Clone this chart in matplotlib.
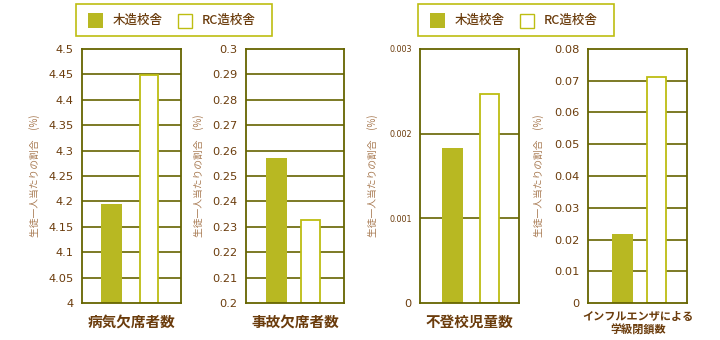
import matplotlib
matplotlib.use("Agg")
import matplotlib.pyplot as plt
from matplotlib.patches import Rectangle

plt.rcParams['font.family'] = ['Noto Sans CJK JP', 'DejaVu Sans']

# per-student rates (%) for wooden vs. RC school buildings
titles = ['病気欠席者数', '事故欠席者数', '不登校児童数', 'インフルエンザによる\n学級閉鎖数']
wood = [4.194, 0.257, 0.00183, 0.0218]
rc = [4.448, 0.2326, 0.00247, 0.0712]
ylims = [(4.0, 4.5), (0.2, 0.3), (0.0, 0.003), (0.0, 0.08)]
yticks = [
    [4, 4.05, 4.1, 4.15, 4.2, 4.25, 4.3, 4.35, 4.4, 4.45, 4.5],
    [0.2, 0.21, 0.22, 0.23, 0.24, 0.25, 0.26, 0.27, 0.28, 0.29, 0.3],
    [0, 0.001, 0.002, 0.003],
    [0, 0.01, 0.02, 0.03, 0.04, 0.05, 0.06, 0.07, 0.08],
]
ytick_labels = [
    ['4', '4.05', '4.1', '4.15', '4.2', '4.25', '4.3', '4.35', '4.4', '4.45', '4.5'],
    ['0.2', '0.21', '0.22', '0.23', '0.24', '0.25', '0.26', '0.27', '0.28', '0.29', '0.3'],
    ['0', '0.001', '0.002', '0.003'],
    ['0', '0.01', '0.02', '0.03', '0.04', '0.05', '0.06', '0.07', '0.08'],
]
legend_names = ['木造校舎', 'RC造校舎']
ylabel = '生徒一人当たりの割合　(%)'

WOOD = '#b8b822'
RC_EDGE = '#bdbd12'
LINE = '#666400'
TXT = '#6b3c0c'
YLAB = '#a87a52'

W, H = 720, 340
fig = plt.figure(figsize=(7.2, 3.4), dpi=100)

lefts = [82, 245.7, 420.3, 588.3]
widths = [98.5, 98.5, 99, 99]
top, bottom = 49, 303
wood_x = [0.30, 0.31, 0.325, 0.345]
rc_x = [0.68, 0.66, 0.70, 0.69]
ylab_x = [35, 199, 373, 539]

for i in range(4):
    ax = fig.add_axes([lefts[i] / W, 1 - bottom / H, widths[i] / W, (bottom - top) / H])
    lo, hi = ylims[i]
    ax.set_xlim(0, 1)
    ax.set_ylim(lo, hi)
    for t in yticks[i][1:-1]:
        ax.axhline(t, color=LINE, lw=1.2, zorder=1)
    ax.bar(wood_x[i], wood[i] - lo, bottom=lo, width=0.21, color=WOOD, zorder=2)
    ax.bar(rc_x[i], rc[i] - lo, bottom=lo, width=0.19, facecolor='white',
           edgecolor=RC_EDGE, linewidth=1.3, zorder=2)
    for s in ax.spines.values():
        s.set_color(LINE)
        s.set_linewidth(1.3)
    ax.set_xticks([])
    ax.set_yticks(yticks[i])
    ax.set_yticklabels(ytick_labels[i], family='DejaVu Sans')
    ax.tick_params(axis='y', length=0, pad=6, labelcolor=TXT, labelsize=8.2)
    if i == 2:
        for lab in ax.get_yticklabels()[1:]:
            lab.set_fontsize(5.8)

    cx = (lefts[i] + widths[i] / 2) / W
    if i == 3:
        fig.text(cx, 1 - 323 / H, titles[i], ha='center', va='center',
                 fontsize=8, color=TXT, linespacing=1.05, fontweight='bold')
    else:
        fig.text(cx, 1 - 322 / H, titles[i], ha='center', va='center',
                 fontsize=10.5, color=TXT, fontweight='bold')
    fig.text(ylab_x[i] / W, 1 - 176 / H, ylabel, rotation=90, ha='center',
             va='center', fontsize=7, color=YLAB)

# two legend boxes above the pairs of charts
for bx in [76, 418]:
    fig.patches.append(Rectangle((bx / W, 1 - 36 / H), 196 / W, 32 / H,
                                 transform=fig.transFigure, facecolor='white',
                                 edgecolor=RC_EDGE, linewidth=1.2))
    fig.patches.append(Rectangle(((bx + 12) / W, 1 - 28 / H), 15 / W, 15 / H,
                                 transform=fig.transFigure, facecolor=WOOD,
                                 edgecolor='none'))
    fig.patches.append(Rectangle(((bx + 102) / W, 1 - 28 / H), 14 / W, 14 / H,
                                 transform=fig.transFigure, facecolor='white',
                                 edgecolor=RC_EDGE, linewidth=1.0))
    fig.text((bx + 37) / W, 1 - 20 / H, legend_names[0], ha='left', va='center',
             fontsize=9, color=TXT, fontweight='medium')
    fig.text((bx + 126) / W, 1 - 20 / H, legend_names[1], ha='left', va='center',
             fontsize=9, color=TXT, fontweight='medium')

fig.savefig('out.png', dpi=100, facecolor='white')
